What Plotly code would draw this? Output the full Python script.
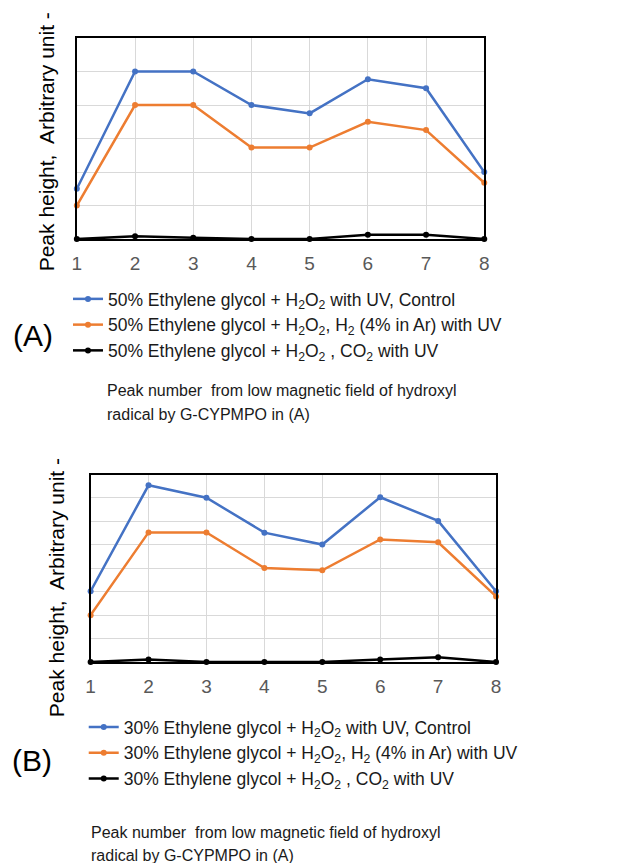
import plotly.graph_objects as go

peaks = [1, 2, 3, 4, 5, 6, 7, 8]

# Panel A (50% ethylene glycol)
a_control = [1.5, 5.0, 5.0, 4.0, 3.75, 4.77, 4.5, 2.0]
a_h2 = [1.0, 4.0, 4.0, 2.73, 2.73, 3.5, 3.25, 1.68]
a_co2 = [0.0, 0.08, 0.04, 0.0, 0.0, 0.13, 0.13, 0.0]

# Panel B (30% ethylene glycol)
b_control = [3.02, 7.54, 7.01, 5.52, 5.01, 7.03, 6.02, 3.02]
b_h2 = [2.0, 5.53, 5.53, 4.01, 3.91, 5.23, 5.11, 2.8]
b_co2 = [0.0, 0.11, 0.0, 0.0, 0.0, 0.11, 0.2, 0.0]

names_a = [
    "50% Ethylene glycol + H<sub>2</sub>O<sub>2</sub> with UV, Control",
    "50% Ethylene glycol + H<sub>2</sub>O<sub>2</sub>, H<sub>2</sub> (4% in Ar) with UV",
    "50% Ethylene glycol + H<sub>2</sub>O<sub>2</sub> , CO<sub>2</sub> with UV",
]
names_b = [
    "30% Ethylene glycol + H<sub>2</sub>O<sub>2</sub> with UV, Control",
    "30% Ethylene glycol + H<sub>2</sub>O<sub>2</sub>, H<sub>2</sub> (4% in Ar) with UV",
    "30% Ethylene glycol + H<sub>2</sub>O<sub>2</sub> , CO<sub>2</sub> with UV",
]
y_title = "Peak height,  Arbitrary unit -"
caption = ["Peak number  from low magnetic field of hydroxyl", "radical by G-CYPMPO in (A)"]
colors = ["#4472C4", "#ED7D31", "#000000"]

W, H = 628, 863
def px(y):
    return 1 - y / H

fig = go.Figure()
for vals, name, col in zip([a_control, a_h2, a_co2], names_a, colors):
    fig.add_trace(go.Scatter(x=peaks, y=vals, name=name, mode="lines+markers",
                             line=dict(color=col, width=2.5), marker=dict(color=col, size=6),
                             xaxis="x", yaxis="y", legend="legend", cliponaxis=False))
for vals, name, col in zip([b_control, b_h2, b_co2], names_b, colors):
    fig.add_trace(go.Scatter(x=peaks, y=vals, name=name, mode="lines+markers",
                             line=dict(color=col, width=2.5), marker=dict(color=col, size=6),
                             xaxis="x2", yaxis="y2", legend="legend2", cliponaxis=False))

font = "Liberation Sans, Arial, sans-serif"
xcommon = dict(range=[1, 8], tickvals=peaks, showgrid=True, gridcolor="#d9d9d9", gridwidth=1,
               showline=True, linecolor="#000000", linewidth=2, mirror=True,
               ticks="outside", ticklen=6, tickcolor="rgba(0,0,0,0)",
               tickfont=dict(family=font, size=19, color="#595959"), zeroline=False)
ycommon = dict(dtick=1, showgrid=True, gridcolor="#d9d9d9", gridwidth=1,
               showline=True, linecolor="#000000", linewidth=2, mirror=True,
               showticklabels=False, ticks="", zeroline=False)

legfont = dict(family=font, size=17.5, color="#1a1a1a")
fig.update_layout(
    width=W, height=H, margin=dict(l=0, r=0, t=0, b=0),
    paper_bgcolor="white", plot_bgcolor="white",
    font=dict(family=font, color="#000000"),
    xaxis=dict(domain=[73 / W, 487 / W], anchor="y", **xcommon),
    yaxis=dict(domain=[px(239), px(38)], anchor="x", range=[0, 6], **ycommon),
    xaxis2=dict(domain=[87 / W, 499 / W], anchor="y2", **xcommon),
    yaxis2=dict(domain=[px(662), px(474.5)], anchor="x2", range=[0, 8], **ycommon),
    legend=dict(x=64 / W, y=px(281), xanchor="left", yanchor="top", itemwidth=30,
                font=legfont, bgcolor="rgba(0,0,0,0)", tracegroupgap=0),
    legend2=dict(x=80 / W, y=px(709), xanchor="left", yanchor="top", itemwidth=30,
                 font=legfont, bgcolor="rgba(0,0,0,0)", tracegroupgap=0),
    showlegend=True,
)

ann = []
def add_text(text, x, y, size, angle=0, anchor="left", color="#000000"):
    ann.append(dict(text=text, x=x / W, y=px(y), xref="paper", yref="paper", textangle=angle,
                    showarrow=False, font=dict(family=font, size=size, color=color),
                    xanchor=anchor, yanchor="middle", align="left"))

add_text(y_title, 43, 142, 21, angle=-90, anchor="center")
add_text(y_title, 52, 588, 21, angle=-90, anchor="center")
add_text("(A)", 6, 335, 30)
add_text("(B)", 5, 760, 30)
add_text(caption[0], 102, 390, 16, color="#1a1a1a")
add_text(caption[1], 102, 415, 16, color="#1a1a1a")
add_text(caption[0], 85, 832, 16, color="#1a1a1a")
add_text(caption[1], 85, 855, 16, color="#1a1a1a")
fig.update_layout(annotations=ann)

fig.write_html("out.html")
